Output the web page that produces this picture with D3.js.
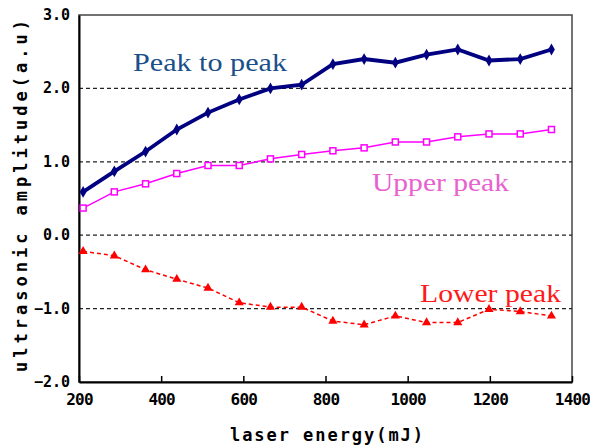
<!DOCTYPE html>
<html>
<head>
<meta charset="utf-8">
<script src="https://cdn.jsdelivr.net/npm/d3@7"></script>
<style>
  body { margin: 0; background: #fff; }
</style>
</head>
<body>
<div id="chart"></div>
<script>
// laser energy (mJ)
var energy = [210, 286, 362, 438, 514, 590, 666, 742, 818, 894, 970, 1046, 1122, 1198, 1274, 1350];
var peakToPeak = [0.59, 0.87, 1.14, 1.44, 1.67, 1.85, 2.00, 2.05, 2.33, 2.40, 2.35, 2.46, 2.53, 2.38, 2.40, 2.53];
var upperPeak = [0.37, 0.59, 0.70, 0.84, 0.95, 0.95, 1.04, 1.10, 1.15, 1.19, 1.27, 1.27, 1.34, 1.38, 1.38, 1.44];
var lowerPeak = [-0.22, -0.28, -0.47, -0.60, -0.72, -0.92, -0.98, -0.98, -1.17, -1.22, -1.10, -1.19, -1.19, -1.01, -1.04, -1.10];
var xTicks = [200, 400, 600, 800, 1000, 1200, 1400];
var yTicks = [-2, -1, 0, 1, 2, 3];
var gridVals = [-1, 0, 1, 2];

function init() {
    var w = 590, h = 448;
    var left = 79, right = 572, top = 15, bottom = 382;
    var mono = "'DejaVu Sans Mono', 'Liberation Mono', monospace";
    var serif = "'Liberation Serif', 'DejaVu Serif', serif";

    var svg = d3.select("#chart").append("svg")
        .attr("width", w).attr("height", h);

    var x = d3.scaleLinear().domain([200, 1400]).range([left, right]);
    var y = d3.scaleLinear().domain([-2, 3]).range([bottom, top]);

    // frame
    svg.append("rect")
        .attr("x", left).attr("y", top)
        .attr("width", right - left).attr("height", bottom - top)
        .attr("fill", "none").attr("stroke", "#444").attr("stroke-width", 1.5);

    // dashed grid lines
    svg.selectAll("line.grid")
        .data(gridVals)
        .enter().append("line")
        .attr("class", "grid")
        .attr("x1", left).attr("x2", right)
        .attr("y1", function(d) { return y(d); })
        .attr("y2", function(d) { return y(d); })
        .attr("stroke", "#222").attr("stroke-width", 1.2)
        .attr("stroke-dasharray", "4,3");

    // x axis: ticks pointing inward
    var xAxis = svg.append("g")
        .attr("transform", "translate(0," + bottom + ")")
        .call(d3.axisBottom(x).tickValues(xTicks).tickSizeInner(-6).tickSizeOuter(0)
            .tickPadding(12).tickFormat(d3.format("d")));
    xAxis.select(".domain").attr("stroke", "#000").attr("stroke-width", 2);
    xAxis.selectAll(".tick line").attr("stroke", "#000").attr("stroke-width", 1.5);
    xAxis.selectAll("text")
        .style("font-family", mono).style("font-size", "16px").style("font-weight", "bold")
        .attr("fill", "#000").attr("letter-spacing", -0.8);

    var yAxis = svg.append("g")
        .attr("transform", "translate(" + left + ",0)")
        .call(d3.axisLeft(y).tickValues(yTicks).tickSize(0).tickPadding(9));
    yAxis.select(".domain").attr("stroke", "#000").attr("stroke-width", 2);
    yAxis.selectAll("text")
        .style("font-family", mono).style("font-size", "15px").style("font-weight", "bold")
        .attr("fill", "#000").attr("dy", "0.3em")
        .text(function(d) { return d < 0 ? "\u2212" + d3.format(".1f")(-d) : d3.format(".1f")(d); });

    function series(vals) {
        return energy.map(function(e, i) { return [e, vals[i]]; });
    }
    var line = d3.line()
        .x(function(d) { return x(d[0]); })
        .y(function(d) { return y(d[1]); });

    // Peak to peak
    svg.append("path")
        .datum(series(peakToPeak))
        .attr("d", line)
        .attr("fill", "none").attr("stroke", "#000080").attr("stroke-width", 3.8);
    svg.selectAll("path.p2p")
        .data(series(peakToPeak))
        .enter().append("path")
        .attr("class", "p2p")
        .attr("d", d3.symbol().type(d3.symbolDiamond).size(40))
        .attr("transform", function(d) { return "translate(" + x(d[0]) + "," + y(d[1]) + ")"; })
        .attr("fill", "#000080");

    // Upper peak
    svg.append("path")
        .datum(series(upperPeak))
        .attr("d", line)
        .attr("fill", "none").attr("stroke", "#ff00ff").attr("stroke-width", 1.5);
    svg.selectAll("rect.up")
        .data(series(upperPeak))
        .enter().append("rect")
        .attr("class", "up")
        .attr("x", function(d) { return x(d[0]) - 3; })
        .attr("y", function(d) { return y(d[1]) - 3; })
        .attr("width", 6).attr("height", 6)
        .attr("fill", "#fff").attr("stroke", "#ff00ff").attr("stroke-width", 1.5);

    // Lower peak
    svg.append("path")
        .datum(series(lowerPeak))
        .attr("d", line)
        .attr("fill", "none").attr("stroke", "#ff0000").attr("stroke-width", 1.5)
        .attr("stroke-dasharray", "4,3");
    svg.selectAll("path.low")
        .data(series(lowerPeak))
        .enter().append("path")
        .attr("class", "low")
        .attr("d", d3.symbol().type(d3.symbolTriangle).size(36))
        .attr("transform", function(d) { return "translate(" + x(d[0]) + "," + y(d[1]) + ")"; })
        .attr("fill", "#ff0000");

    // series labels
    function label(tx, ty, len, color, txt) {
        svg.append("text").attr("x", tx).attr("y", ty)
            .attr("textLength", len).attr("lengthAdjust", "spacingAndGlyphs")
            .style("font-family", serif).style("font-size", "25px")
            .attr("fill", color).text(txt);
    }
    label(133, 71, 154, "#1a4f8a", "Peak to peak");
    label(372, 191, 137, "#e862cf", "Upper peak");
    label(420, 302, 141, "#ff1a1a", "Lower peak");

    // axis titles
    svg.append("text")
        .attr("x", 230).attr("y", 441)
        .attr("textLength", 193).attr("lengthAdjust", "spacing")
        .style("font-family", mono).style("font-size", "17px").style("font-weight", "bold")
        .attr("fill", "#000")
        .text("laser energy(mJ)");
    svg.append("text")
        .attr("transform", "translate(27,372) rotate(-90)")
        .attr("textLength", 352).attr("lengthAdjust", "spacing")
        .style("font-family", mono).style("font-size", "17px").style("font-weight", "bold")
        .attr("fill", "#000")
        .text("ultrasonic amplitude(a.u)");
}

window.onload = init;
</script>
</body>
</html>
